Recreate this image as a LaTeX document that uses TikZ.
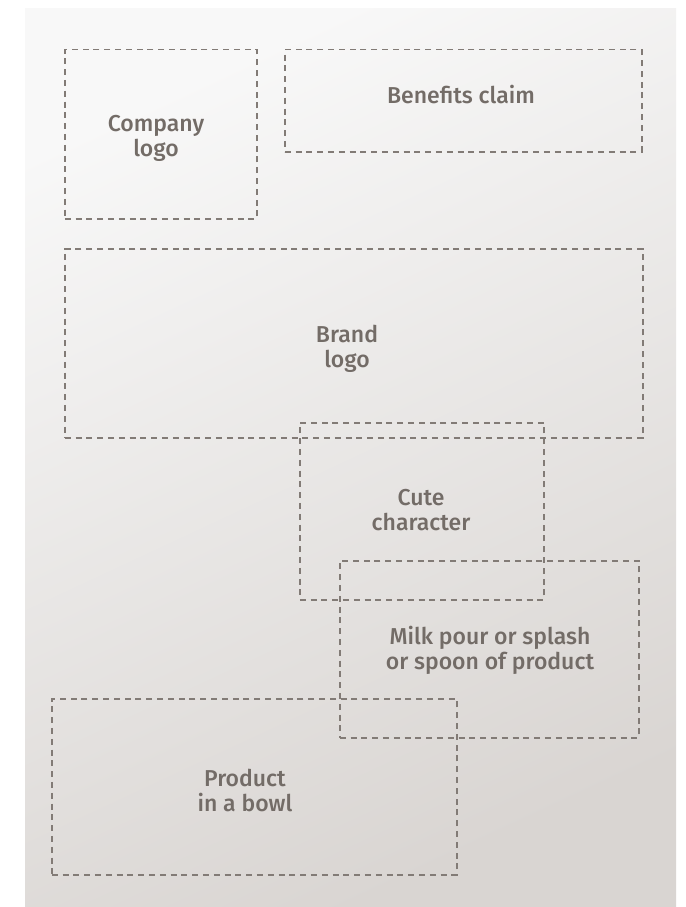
\documentclass[tikz,border=0pt]{standalone}
\usepackage{fontspec}
\setmainfont{Fira Sans}[UprightFont=* Medium]
\begin{document}
\begin{tikzpicture}[x=1pt,y=-1pt,
  zone/.style={draw=boxgray, line width=1.5pt, dash pattern=on 6pt off 4.8pt, rectangle, inner sep=0pt, anchor=north west},
  lbl/.style={text=txtgray, font=\fontsize{23}{25}\selectfont, align=center, inner sep=0pt}]
\definecolor{boxgray}{HTML}{827B76}
\definecolor{txtgray}{HTML}{736C67}
\definecolor{tl}{HTML}{F8F8F8}
\definecolor{br}{HTML}{D9D5D2}
\useasboundingbox (0,0) rectangle (685,907);
\fill[white] (0,0) rectangle (685,907);
\shade[top color=tl, bottom color=br, shading angle=25] (25,9) rectangle (676,907);
% zones
\node[zone, minimum width=192pt, minimum height=169pt] (company) at (64,49) {};
\node[zone, minimum width=357pt, minimum height=102pt] (benefits) at (284,49) {};
\node[zone, minimum width=578pt, minimum height=189pt] (brand) at (64,248) {};
\node[zone, minimum width=244pt, minimum height=177pt] (cute) at (299,422) {};
\node[zone, minimum width=299pt, minimum height=177pt] (milk) at (339,560) {};
\node[zone, minimum width=405pt, minimum height=176pt] (bowl) at (51,698) {};
% labels
\node[lbl] (companyl) at (156,138) {Company\\logo};
\node[lbl] (benefitsl) at (461,95) {Benefits claim};
\node[lbl] (brandl) at (347,349) {Brand\\logo};
\node[lbl] (cutel) at (421,510) {Cute\\character};
\node[lbl] (milkl) at (490,650) {Milk pour or splash\\or spoon of product};
\node[lbl] (bowll) at (245,790) {Product\\in a bowl};
\end{tikzpicture}
\end{document}
